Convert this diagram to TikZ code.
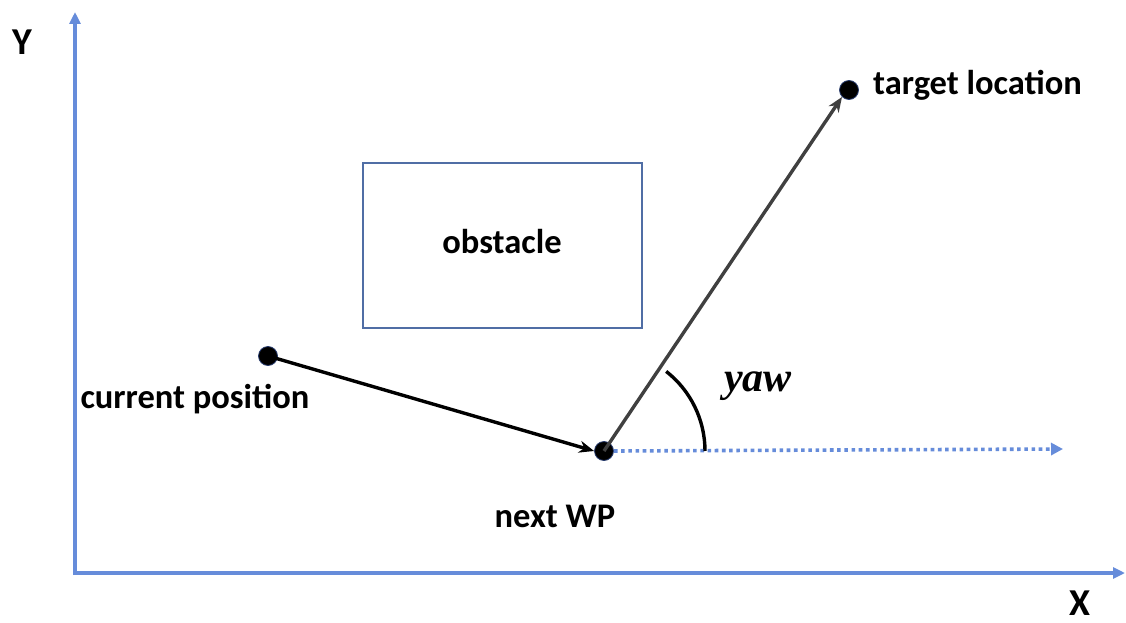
\documentclass[tikz,border=0pt]{standalone}
\usepackage{fontspec}
\setmainfont{Carlito}
\newfontfamily\yawfont{Liberation Serif}
\usetikzlibrary{arrows.meta}
\definecolor{axisblue}{RGB}{102,140,218}
\definecolor{boxblue}{RGB}{80,110,165}
\definecolor{dotrim}{RGB}{40,60,110}
\definecolor{darkline}{RGB}{64,64,64}
\begin{document}
\begin{tikzpicture}[x=1pt,y=-1pt,
  axis/.style={draw=axisblue,line width=3.5pt,-{Triangle[length=12pt,width=11pt]}},
  lbl/.style={font=\fontsize{34.5}{40}\selectfont\bfseries,inner sep=0pt},
  big/.style={font=\fontsize{38}{44}\selectfont\bfseries,inner sep=0pt},
  wp/.style={circle,fill=black,draw=dotrim,line width=0.8pt,minimum size=19pt,inner sep=0pt}]
\useasboundingbox (0,0) rectangle (1126,623);
% axes
\coordinate (origin) at (75,573);
\coordinate (ytip) at (75,12);
\coordinate (xtip) at (1125,573);
\draw[axis] (75,575) -- (ytip);
\draw[axis] (73.3,573) -- (xtip);
\node[big] (ylab) at (22,42) {Y};
\node[big] (xlab) at (1080,603) {X};
% obstacle
\node[draw=boxblue,line width=2.2pt,minimum width=279pt,minimum height=165pt,inner sep=0pt] (obs) at (502.5,245.5) {};
\node[lbl] (obslab) at (502,242) {obstacle};
% waypoints
\node[wp] (cur) at (268,356) {};
\node[wp] (next) at (604,451) {};
\node[wp] (tgt) at (849,90) {};
\node[lbl] (curlab) at (195,399) {current position};
\node[lbl] (nextlab) at (555,516) {next WP};
\node[lbl,anchor=west] (tgtlab) at (873,85) {target location};
% path segments
\draw[line width=3.4pt,-{Stealth[length=15pt,width=12pt]}] (cur.center) -- (next.west);
\draw[darkline,line width=3.4pt,-{Stealth[length=15pt,width=12pt]}] (next.center) -- (tgt.south west);
\coordinate (heading) at (1063,449);
\draw[axisblue,line width=3.6pt,dash pattern=on 3.6pt off 3.6pt,-{Triangle[length=12pt,width=12pt]}] (next.east) -- (heading);
% yaw angle
\draw[line width=3.4pt] ([shift={(0:101)}]next.center) arc[start angle=0,end angle=-52,radius=101];
\node[inner sep=0pt,font=\yawfont\fontsize{42}{46}\selectfont\bfseries\itshape] (yaw) at (758,386) {yaw};
\end{tikzpicture}
\end{document}
